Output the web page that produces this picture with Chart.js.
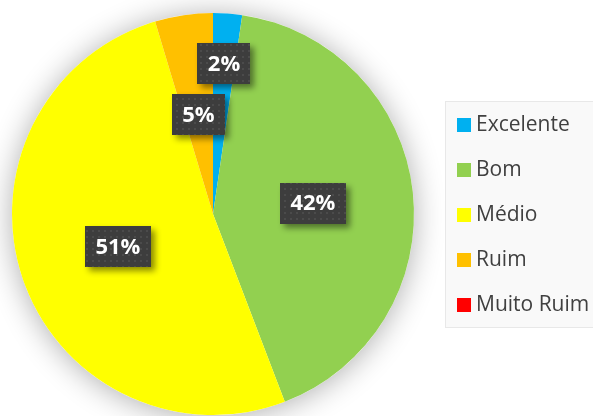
<!DOCTYPE html>
<html>
<head>
<meta charset="utf-8">
<script src="https://cdn.jsdelivr.net/npm/chart.js@4.4.1/dist/chart.umd.min.js"></script>
<style>
  html, body { margin: 0; padding: 0; background: #ffffff; }
  #wrap { width: 593px; height: 416px; }
</style>
</head>
<body>
<div id="wrap"><canvas id="myChart" width="593" height="416"></canvas></div>
<script>
var categories = ["Excelente", "Bom", "Médio", "Ruim", "Muito Ruim"];
var votes = [1, 18, 22, 2, 0];
var sliceColors = ["#00B0F0", "#92D050", "#FFFF00", "#FFC000", "#FF0000"];

// dotted dark pattern for the data label boxes
function makePattern(ctx) {
    var p = document.createElement("canvas");
    p.width = 6; p.height = 6;
    var pc = p.getContext("2d");
    pc.fillStyle = "#3d3d3d";
    pc.fillRect(0, 0, 6, 6);
    pc.fillStyle = "#4b4b4b";
    pc.fillRect(2, 2, 2, 2);
    return ctx.createPattern(p, "repeat");
}

var pieShadow = {
    id: "pieShadow",
    beforeDatasetsDraw: function (chart) {
        var arc = chart.getDatasetMeta(0).data[0];
        if (!arc) return;
        var ctx = chart.ctx;
        ctx.save();
        ctx.shadowColor = "rgba(0,0,0,0.32)";
        ctx.shadowBlur = 30;
        ctx.shadowOffsetY = 2;
        ctx.fillStyle = "#ffffff";
        ctx.beginPath();
        ctx.arc(arc.x, arc.y, arc.outerRadius, 0, Math.PI * 2);
        ctx.fill();
        ctx.restore();
    }
};

var boxLabels = {
    id: "boxLabels",
    afterDatasetsDraw: function (chart) {
        var ctx = chart.ctx;
        var data = chart.data.datasets[0].data;
        var total = data.reduce(function (a, b) { return a + b; }, 0);
        var pattern = makePattern(ctx);
        ctx.save();
        ctx.font = "bold 22px 'Open Sans'";
        ctx.textAlign = "center";
        ctx.textBaseline = "middle";
        chart.getDatasetMeta(0).data.forEach(function (arc, i) {
            var v = data[i];
            if (!v) return;
            var frac = v / total;
            var mid = (arc.startAngle + arc.endAngle) / 2;
            var f = frac < 0.03 ? 0.75 : 0.5;
            var x = arc.x + Math.cos(mid) * arc.outerRadius * f;
            var y = arc.y + Math.sin(mid) * arc.outerRadius * f;
            var txt = Math.round(frac * 100) + "%";
            var w = ctx.measureText(txt).width + 21;
            var h = 41;
            ctx.save();
            ctx.shadowColor = "rgba(0,0,0,0.45)";
            ctx.shadowBlur = 6;
            ctx.shadowOffsetX = 4;
            ctx.shadowOffsetY = 4;
            ctx.fillStyle = pattern;
            ctx.fillRect(Math.round(x - w / 2), Math.round(y - h / 2), Math.round(w), h);
            ctx.restore();
            ctx.fillStyle = "#ffffff";
            ctx.fillText(txt, x, y + 1);
        });
        ctx.restore();
    }
};

var sideLegend = {
    id: "sideLegend",
    afterDraw: function (chart) {
        var ctx = chart.ctx;
        var ds = chart.data.datasets[0];
        ctx.save();
        ctx.fillStyle = "#f9f9f9";
        ctx.fillRect(445, 101, 152, 226);
        ctx.strokeStyle = "#e8e8e8";
        ctx.lineWidth = 1;
        ctx.strokeRect(445.5, 101.5, 152, 226);
        ctx.font = "21px 'Open Sans'";
        ctx.textBaseline = "middle";
        ctx.textAlign = "left";
        chart.data.labels.forEach(function (lab, i) {
            var cy = 125 + i * 45;
            ctx.fillStyle = ds.backgroundColor[i];
            ctx.fillRect(457, cy - 7, 14, 14);
            ctx.fillStyle = "#404040";
            ctx.fillText(lab, 476, cy);
        });
        ctx.restore();
    }
};

var config = {
    type: "pie",
    data: {
        labels: categories,
        datasets: [
            {
                data: votes,
                backgroundColor: sliceColors,
                borderWidth: 0,
                hoverOffset: 0,
            },
        ],
    },
    options: {
        responsive: false,
        animation: false,
        events: [],
        layout: {
            padding: { left: 12, top: 13, right: 179, bottom: 1 },
        },
        plugins: {
            legend: { display: false },
            tooltip: { enabled: false },
        },
    },
    plugins: [pieShadow, boxLabels, sideLegend],
};

var ctx = document.getElementById("myChart");
window.myPie = new Chart(ctx, config);
</script>
</body>
</html>
